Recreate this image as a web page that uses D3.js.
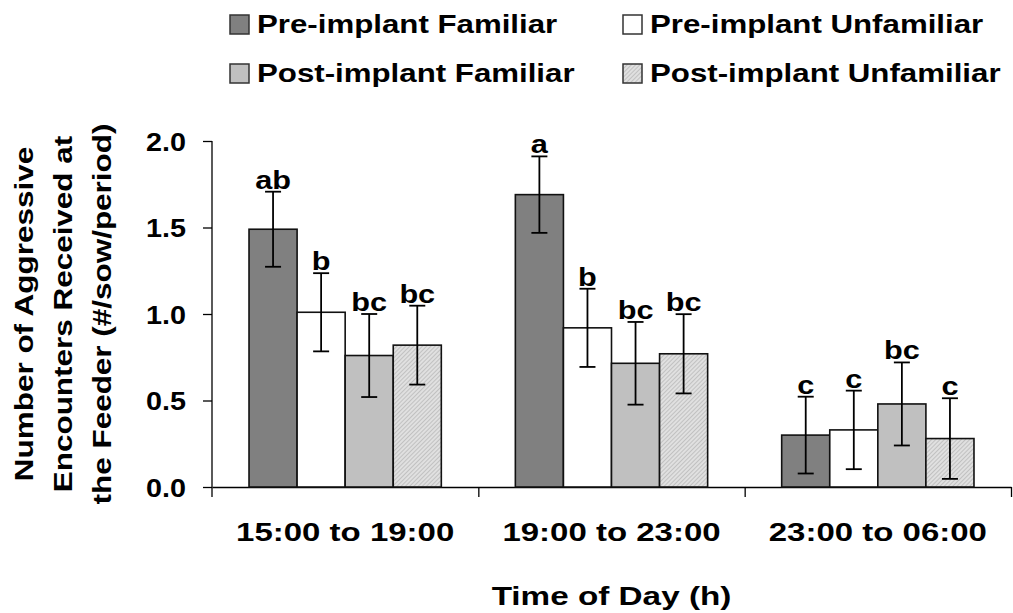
<!DOCTYPE html>
<html>
<head>
<meta charset="utf-8">
<script src="https://cdn.jsdelivr.net/npm/d3@7"></script>
<style>
  body { margin: 0; background: #fff; }
  text { font-family: "Liberation Sans", Arial, sans-serif; font-weight: bold; fill: #000; }
</style>
</head>
<body>
<script>
const periods = ["15:00 to 19:00", "19:00 to 23:00", "23:00 to 06:00"];
const series = ["Pre-implant Familiar", "Pre-implant Unfamiliar", "Post-implant Familiar", "Post-implant Unfamiliar"];

// means per series, one value per period
const preFam    = [1.49, 1.69, 0.30];
const preUnfam  = [1.01, 0.92, 0.33];
const postFam   = [0.76, 0.715, 0.48];
const postUnfam = [0.82, 0.77, 0.28];

// standard errors
const sePreFam    = [0.217, 0.221, 0.222];
const sePreUnfam  = [0.226, 0.226, 0.227];
const sePostFam   = [0.24, 0.239, 0.24];
const sePostUnfam = [0.228, 0.229, 0.233];

// significance letters
const lettersPreFam    = ["ab", "a", "c"];
const lettersPreUnfam  = ["b", "b", "c"];
const lettersPostFam   = ["bc", "bc", "bc"];
const lettersPostUnfam = ["bc", "bc", "c"];

const yTicks = [0, 0.5, 1.0, 1.5, 2.0];

const means = [preFam, preUnfam, postFam, postUnfam];
const ses = [sePreFam, sePreUnfam, sePostFam, sePostUnfam];
const letters = [lettersPreFam, lettersPreUnfam, lettersPostFam, lettersPostUnfam];

const width = 1013, height = 613;
const margin = {left: 212, right: 2, top: 141, bottom: 126};

// the original figure has its lettering drawn wide, so text is stretched along its run
const wide = (x, y, s) => `translate(${x},${y}) scale(${s},1)`;

const svg = d3.select("body").append("svg")
    .attr("width", width)
    .attr("height", height);

const defs = svg.append("defs");
const pat = defs.append("pattern")
    .attr("id", "hatch")
    .attr("patternUnits", "userSpaceOnUse")
    .attr("width", 3).attr("height", 3)
    .attr("patternTransform", "rotate(45)");
pat.append("rect").attr("width", 3).attr("height", 3).attr("fill", "#e0e0e0");
pat.append("line").attr("x1", 0).attr("y1", 0).attr("x2", 0).attr("y2", 3)
    .attr("stroke", "#a8a8a8").attr("stroke-width", 1.1);

const fills = ["#808080", "#ffffff", "#c0c0c0", "url(#hatch)"];

const x0 = d3.scaleBand()
    .domain(periods)
    .range([margin.left, width - margin.right])
    .padding(0);

const x1 = d3.scaleBand()
    .domain(series)
    .range([0, x0.bandwidth()])
    .paddingInner(0)
    .paddingOuter(0.77);

const y = d3.scaleLinear()
    .domain([0, 2])
    .range([height - margin.bottom, margin.top]);

// y axis
const yAxis = svg.append("g")
    .attr("transform", `translate(${margin.left},0)`)
    .call(d3.axisLeft(y).tickValues(yTicks).tickFormat(d3.format(".1f")).tickSize(9).tickSizeOuter(0));
yAxis.select(".domain").attr("stroke", "#000").attr("stroke-width", 1.3)
    .attr("d", `M0,${y(2)}V${y(0) + 10}`);
yAxis.selectAll(".tick line").attr("stroke", "#000").attr("stroke-width", 1.3);
yAxis.selectAll(".tick text")
    .attr("x", null)
    .attr("transform", wide(-26, 0, 1.15))
    .attr("dy", "0.36em")
    .attr("font-size", 25)
    .attr("font-family", "Liberation Sans, Arial, sans-serif")
    .attr("font-weight", "bold")
    .attr("fill", "#000");

// x axis with ticks at period boundaries
const xEdge = d3.scaleLinear().domain([0, periods.length]).range(x0.range());
const xAxis = svg.append("g")
    .attr("transform", `translate(0,${y(0)})`)
    .call(d3.axisBottom(xEdge).tickValues(d3.range(1, periods.length + 1)).tickFormat("").tickSize(10).tickSizeOuter(0));
xAxis.select(".domain").attr("stroke", "#000").attr("stroke-width", 1.3);
xAxis.selectAll(".tick line").attr("stroke", "#000").attr("stroke-width", 1.3);

svg.append("g").selectAll("text")
    .data(periods)
    .join("text")
    .attr("transform", d => wide(x0(d) + x0.bandwidth() / 2, y(0) + 54, 1.32))
    .attr("text-anchor", "middle")
    .attr("font-size", 25)
    .text(d => d);

// bars
const barData = [];
series.forEach((s, i) => {
    periods.forEach((p, j) => {
        barData.push({series: s, si: i, period: p, value: means[i][j], se: ses[i][j], letter: letters[i][j]});
    });
});

const g = svg.append("g");
g.selectAll("rect.bar")
    .data(barData)
    .join("rect")
    .attr("class", "bar")
    .attr("x", d => x0(d.period) + x1(d.series))
    .attr("y", d => y(d.value))
    .attr("width", x1.bandwidth())
    .attr("height", d => y(0) - y(d.value))
    .attr("fill", d => fills[d.si])
    .attr("stroke", "#111")
    .attr("stroke-width", 1.6);

const cx = d => x0(d.period) + x1(d.series) + x1.bandwidth() / 2;
const capW = 8;

const err = g.selectAll("g.err")
    .data(barData)
    .join("g")
    .attr("class", "err")
    .attr("stroke", "#000")
    .attr("stroke-width", 1.8);
err.append("line")
    .attr("x1", cx).attr("x2", cx)
    .attr("y1", d => y(d.value + d.se)).attr("y2", d => y(d.value - d.se));
err.append("line")
    .attr("x1", d => cx(d) - capW).attr("x2", d => cx(d) + capW)
    .attr("y1", d => y(d.value + d.se)).attr("y2", d => y(d.value + d.se));
err.append("line")
    .attr("x1", d => cx(d) - capW).attr("x2", d => cx(d) + capW)
    .attr("y1", d => y(d.value - d.se)).attr("y2", d => y(d.value - d.se));

g.selectAll("text.letter")
    .data(barData)
    .join("text")
    .attr("class", "letter")
    .attr("transform", d => wide(cx(d), y(d.value + d.se) - 3, 1.18))
    .attr("text-anchor", "middle")
    .attr("font-size", 26)
    .text(d => d.letter);

// axis titles
svg.append("text")
    .attr("transform", wide((x0.range()[0] + x0.range()[1]) / 2, 605, 1.28))
    .attr("text-anchor", "middle")
    .attr("font-size", 26)
    .text("Time of Day (h)");

const yTitle = ["Number of Aggressive", "Encounters Received at", "the Feeder (#/sow/period)"];
svg.append("g")
    .attr("transform", `translate(0,${(y(0) + y(2)) / 2}) rotate(-90)`)
    .selectAll("text")
    .data(yTitle)
    .join("text")
    .attr("transform", (d, i) => wide(0, 33 + i * 39, 1.21))
    .attr("text-anchor", "middle")
    .attr("font-size", 26)
    .text(d => d);

// legend
const legend = svg.append("g").selectAll("g")
    .data(series)
    .join("g")
    .attr("transform", (d, i) => `translate(${i % 2 === 0 ? 230 : 623},${i < 2 ? 15 : 64})`);
legend.append("rect")
    .attr("width", 19).attr("height", 19)
    .attr("fill", (d, i) => fills[i])
    .attr("stroke", "#333")
    .attr("stroke-width", 1.5);
legend.append("text")
    .attr("transform", wide(27, 18, 1.25))
    .attr("font-size", 25)
    .text(d => d);
</script>
</body>
</html>
